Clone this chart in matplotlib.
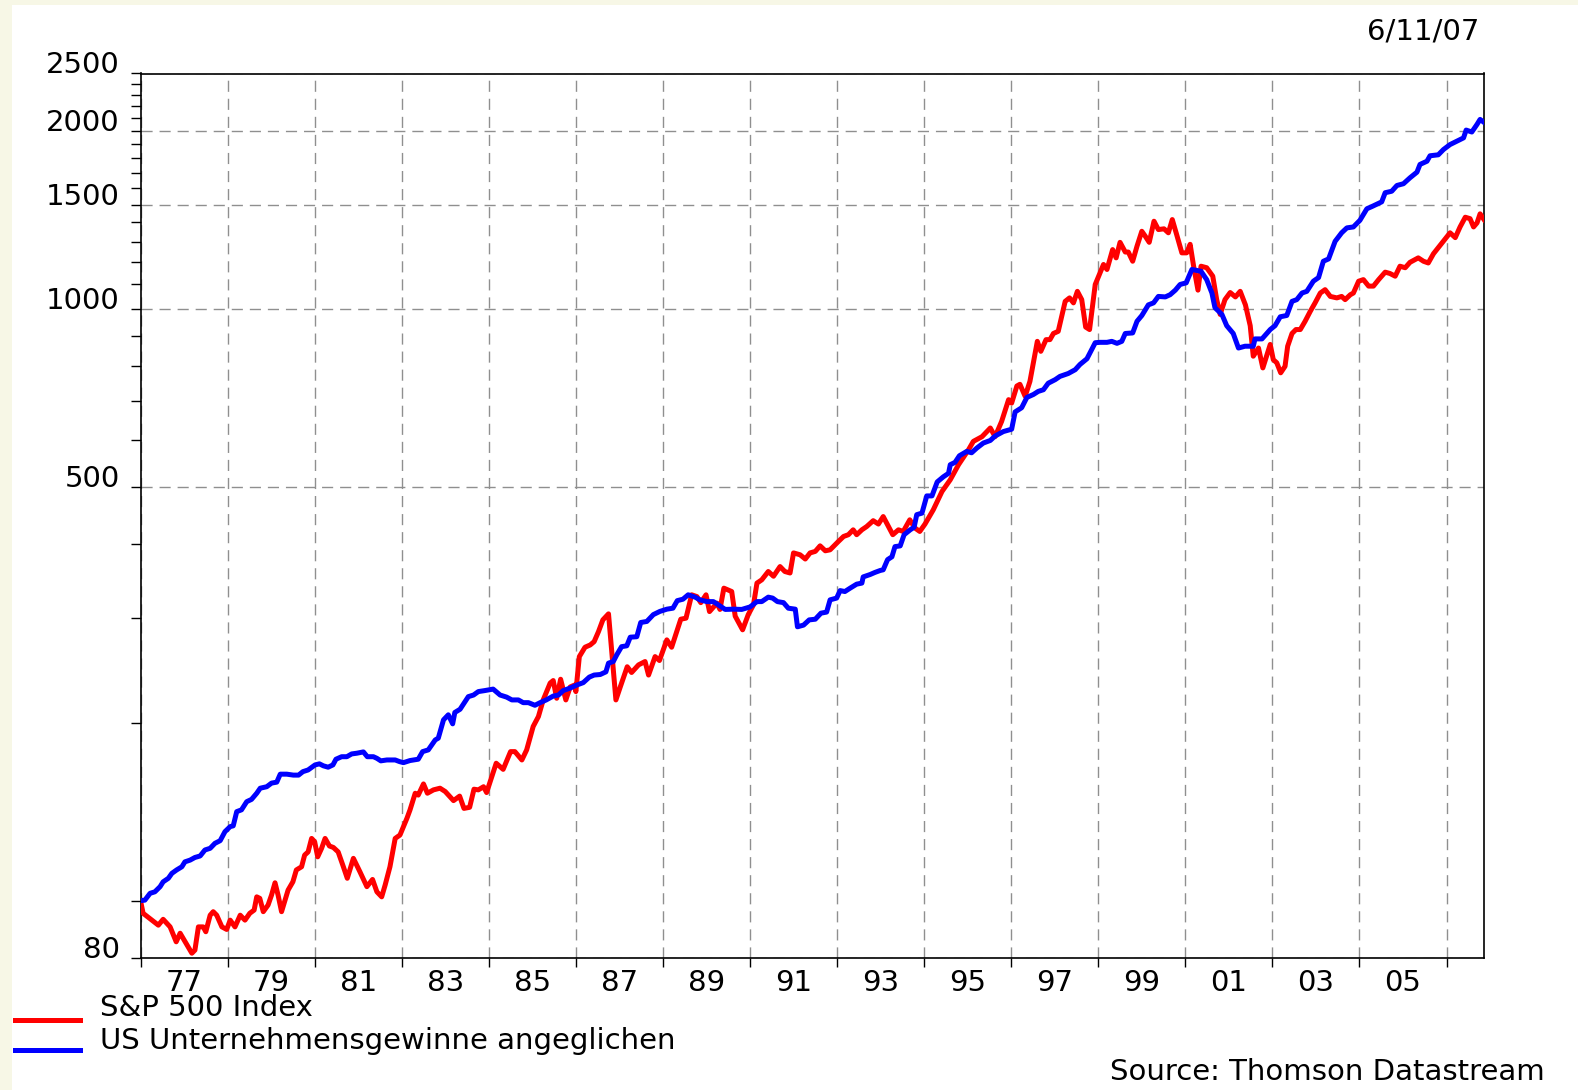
import matplotlib
matplotlib.use("Agg")
import matplotlib.pyplot as plt
from matplotlib.lines import Line2D
from matplotlib.patches import Rectangle
from matplotlib.ticker import NullFormatter

# 1. data (index, start = 100)
sp_years = [
    1977.00, 1977.06, 1977.26, 1977.41, 1977.52, 1977.68, 1977.82, 1977.91, 1978.18, 1978.25,
    1978.33, 1978.44, 1978.50, 1978.60, 1978.67, 1978.75, 1978.87, 1978.98, 1979.06, 1979.17,
    1979.29, 1979.40, 1979.51, 1979.61, 1979.67, 1979.74, 1979.82, 1979.93, 1980.01, 1980.09,
    1980.16, 1980.24, 1980.31, 1980.39, 1980.50, 1980.58, 1980.70, 1980.77, 1980.85, 1980.93,
    1981.00, 1981.07, 1981.16, 1981.24, 1981.34, 1981.43, 1981.54, 1981.66, 1981.75, 1981.89,
    1982.04, 1982.20, 1982.33, 1982.43, 1982.54, 1982.62, 1982.73, 1982.85, 1982.96, 1983.12,
    1983.19, 1983.31, 1983.38, 1983.50, 1983.59, 1983.73, 1983.88, 1984.00, 1984.19, 1984.33,
    1984.43, 1984.56, 1984.66, 1984.76, 1984.88, 1984.95, 1985.07, 1985.17, 1985.33, 1985.50,
    1985.60, 1985.76, 1985.87, 1986.02, 1986.14, 1986.25, 1986.41, 1986.48, 1986.56, 1986.65,
    1986.77, 1986.87, 1986.97, 1987.00, 1987.08, 1987.21, 1987.33, 1987.42, 1987.52, 1987.62,
    1987.75, 1987.92, 1988.02, 1988.18, 1988.28, 1988.44, 1988.59, 1988.67, 1988.82, 1988.92,
    1989.09, 1989.20, 1989.33, 1989.41, 1989.53, 1989.66, 1989.78, 1989.87, 1989.99, 1990.07,
    1990.24, 1990.31, 1990.40, 1990.58, 1990.66, 1990.83, 1990.96, 1991.08, 1991.16, 1991.27,
    1991.42, 1991.54, 1991.69, 1991.80, 1991.92, 1992.00, 1992.15, 1992.27, 1992.38, 1992.50,
    1992.61, 1992.73, 1992.84, 1993.03, 1993.15, 1993.26, 1993.37, 1993.45, 1993.57, 1993.68,
    1993.83, 1993.95, 1994.06, 1994.18, 1994.28, 1994.41, 1994.52, 1994.67, 1994.79, 1994.90,
    1995.02, 1995.21, 1995.41, 1995.60, 1995.79, 1996.02, 1996.13, 1996.33, 1996.52, 1996.63,
    1996.78, 1996.94, 1997.01, 1997.13, 1997.20, 1997.32, 1997.43, 1997.60, 1997.68, 1997.80,
    1997.89, 1997.97, 1998.08, 1998.24, 1998.34, 1998.43, 1998.52, 1998.62, 1998.71, 1998.80,
    1998.93, 1999.12, 1999.20, 1999.33, 1999.41, 1999.50, 1999.62, 1999.69, 1999.79, 1999.89,
    2000.00, 2000.08, 2000.17, 2000.28, 2000.38, 2000.51, 2000.61, 2000.70, 2000.80, 2000.92,
    2001.03, 2001.11, 2001.19, 2001.29, 2001.36, 2001.49, 2001.63, 2001.72, 2001.80, 2001.91,
    2002.03, 2002.15, 2002.26, 2002.38, 2002.49, 2002.56, 2002.68, 2002.78, 2002.95, 2003.02,
    2003.10, 2003.19, 2003.29, 2003.35, 2003.45, 2003.54, 2003.64, 2003.75, 2003.87, 2003.98,
    2004.10, 2004.21, 2004.33, 2004.48, 2004.59, 2004.67, 2004.79, 2004.86, 2004.98, 2005.09,
    2005.21, 2005.32, 2005.44, 2005.59, 2005.70, 2005.82, 2005.93, 2006.05, 2006.16, 2006.35,
    2006.47, 2006.58, 2006.70, 2006.89, 2007.08, 2007.20, 2007.31, 2007.43, 2007.54, 2007.62,
    2007.70, 2007.77, 2007.86]
sp_values = [
    100.0, 95.2, 92.7, 90.9, 93.0, 90.3, 85.2, 88.1, 81.5, 82.5,
    90.3, 90.3, 88.6, 94.5, 95.8, 94.5, 90.3, 89.4, 92.7, 90.3,
    94.5, 92.7, 95.2, 96.4, 101.5, 100.9, 95.8, 98.3, 102.2, 107.2,
    102.2, 95.8, 99.6, 104.2, 107.6, 112.7, 114.1, 119.4, 120.9, 127.4,
    125.8, 118.6, 122.6, 127.4, 123.7, 123.0, 120.9, 114.1, 109.1, 117.9,
    111.9, 105.6, 108.6, 103.5, 101.5, 106.3, 114.1, 127.4, 129.1, 137.8,
    142.3, 151.9, 150.8, 157.5, 151.9, 153.9, 154.9, 152.9, 147.6, 150.2,
    143.2, 143.8, 154.3, 153.9, 155.8, 152.3, 162.0, 170.7, 166.7, 178.6,
    178.6, 172.9, 179.8, 197.0, 204.7, 218.4, 233.2, 235.5, 219.8, 236.7,
    218.4, 229.7, 231.4, 225.6, 258.5, 268.1, 270.5, 274.0, 284.9, 298.2,
    305.3, 218.4, 229.7, 248.5, 243.0, 250.3, 253.6, 240.6, 258.5, 254.6,
    275.9, 268.1, 286.9, 299.0, 300.2, 328.8, 326.5, 318.9, 328.8, 308.0,
    318.3, 310.6, 337.4, 333.0, 302.6, 286.9, 304.4, 316.2, 344.1, 348.5,
    360.0, 353.4, 367.0, 360.0, 357.9, 387.0, 384.2, 377.9, 387.0, 389.3,
    397.8, 390.2, 391.7, 404.6, 412.6, 415.4, 423.4, 415.4, 423.4, 428.8,
    438.7, 433.0, 445.8, 428.8, 415.4, 423.4, 420.7, 440.2, 426.3, 420.7,
    433.0, 457.7, 491.5, 514.4, 545.5, 578.3, 597.3, 608.4, 629.2, 608.4,
    645.6, 702.6, 693.3, 740.9, 745.9, 711.9, 754.4, 881.6, 848.0, 887.5,
    887.5, 909.0, 916.7, 1030, 1044, 1024, 1071, 1037, 932, 923,
    1100, 1189, 1166, 1260, 1220, 1296, 1248, 1248, 1204, 1277,
    1353, 1327, 1296, 1407, 1362, 1366, 1345, 1416, 1336, 1244,
    1244, 1286, 1181, 1076, 1181, 1174, 1136, 1037, 979, 1037,
    1066, 1048, 1071, 1016, 937, 832, 859, 795, 871, 821,
    811, 780, 800, 865, 909, 923, 923, 953, 991, 1024,
    1064, 1078, 1050, 1044, 1050, 1037, 1057, 1064, 1114, 1121,
    1093, 1093, 1121, 1154, 1148, 1136, 1181, 1174, 1199, 1220,
    1204, 1196, 1240, 1291, 1345, 1320, 1376, 1429, 1421, 1376,
    1398, 1448, 1416]

gew_years = [
    1977.00, 1977.10, 1977.22, 1977.33, 1977.45, 1977.52, 1977.64, 1977.72, 1977.83, 1977.95,
    1978.02, 1978.14, 1978.25, 1978.37, 1978.48, 1978.60, 1978.71, 1978.83, 1978.94, 1979.06,
    1979.13, 1979.21, 1979.32, 1979.44, 1979.55, 1979.67, 1979.75, 1979.90, 1980.01, 1980.13,
    1980.21, 1980.36, 1980.51, 1980.63, 1980.73, 1980.85, 1981.01, 1981.11, 1981.20, 1981.31,
    1981.42, 1981.49, 1981.62, 1981.74, 1981.85, 1981.97, 1982.12, 1982.21, 1982.35, 1982.43,
    1982.52, 1982.66, 1982.85, 1982.95, 1983.04, 1983.19, 1983.38, 1983.48, 1983.61, 1983.77,
    1983.84, 1983.96, 1984.07, 1984.17, 1984.22, 1984.34, 1984.43, 1984.53, 1984.65, 1984.76,
    1984.91, 1985.10, 1985.26, 1985.41, 1985.53, 1985.68, 1985.79, 1985.91, 1986.06, 1986.18,
    1986.32, 1986.48, 1986.60, 1986.71, 1986.87, 1987.02, 1987.17, 1987.31, 1987.42, 1987.56,
    1987.69, 1987.75, 1987.86, 1987.94, 1988.05, 1988.17, 1988.25, 1988.40, 1988.49, 1988.63,
    1988.78, 1988.93, 1989.09, 1989.23, 1989.33, 1989.46, 1989.58, 1989.74, 1989.85, 1990.01,
    1990.16, 1990.27, 1990.43, 1990.62, 1990.81, 1991.00, 1991.16, 1991.27, 1991.42, 1991.52,
    1991.63, 1991.77, 1991.88, 1992.04, 1992.09, 1992.23, 1992.36, 1992.50, 1992.63, 1992.76,
    1992.84, 1992.99, 1993.07, 1993.18, 1993.30, 1993.45, 1993.57, 1993.60, 1993.76, 1993.87,
    1993.99, 1994.06, 1994.16, 1994.26, 1994.33, 1994.45, 1994.54, 1994.68, 1994.77, 1994.83,
    1994.95, 1995.06, 1995.18, 1995.30, 1995.44, 1995.56, 1995.60, 1995.71, 1995.81, 1995.98,
    1996.09, 1996.21, 1996.36, 1996.52, 1996.63, 1996.82, 1997.01, 1997.09, 1997.24, 1997.36,
    1997.51, 1997.62, 1997.74, 1997.85, 1998.01, 1998.12, 1998.31, 1998.47, 1998.58, 1998.74,
    1998.81, 1998.93, 1999.04, 1999.20, 1999.31, 1999.43, 1999.54, 1999.62, 1999.79, 1999.89,
    2000.00, 2000.15, 2000.27, 2000.38, 2000.54, 2000.65, 2000.77, 2000.88, 2001.02, 2001.07,
    2001.15, 2001.26, 2001.36, 2001.49, 2001.61, 2001.68, 2001.84, 2001.95, 2002.10, 2002.22,
    2002.37, 2002.56, 2002.60, 2002.76, 2002.95, 2003.06, 2003.18, 2003.33, 2003.45, 2003.56,
    2003.68, 2003.79, 2003.94, 2004.06, 2004.17, 2004.29, 2004.44, 2004.59, 2004.71, 2004.86,
    2005.01, 2005.17, 2005.28, 2005.51, 2005.59, 2005.74, 2005.86, 2006.01, 2006.16, 2006.32,
    2006.39, 2006.55, 2006.62, 2006.81, 2006.93, 2007.08, 2007.24, 2007.39, 2007.45, 2007.58,
    2007.70, 2007.77, 2007.86]
gew_values = [
    100.0, 100.2, 102.9, 103.5, 105.6, 107.6, 109.1, 111.2, 112.7, 114.1,
    116.3, 117.1, 118.3, 119.0, 121.8, 122.6, 125.0, 126.3, 130.8, 133.4,
    133.8, 141.4, 142.4, 147.0, 148.3, 151.9, 154.9, 155.8, 158.0, 158.6,
    163.6, 163.6, 163.0, 163.0, 165.2, 166.3, 169.6, 170.3, 169.0, 168.1,
    169.6, 173.4, 175.1, 175.1, 177.0, 177.5, 178.4, 175.1, 175.1, 174.0,
    172.3, 172.9, 172.9, 171.8, 171.1, 172.5, 173.4, 178.6, 179.8, 186.9,
    188.2, 202.1, 206.1, 199.0, 208.0, 210.6, 215.6, 221.2, 222.6, 225.6,
    226.5, 227.8, 222.6, 220.8, 218.4, 218.4, 216.1, 216.1, 213.9, 216.1,
    218.4, 221.7, 222.6, 226.5, 228.7, 231.4, 233.6, 238.7, 240.6, 241.1,
    243.6, 252.0, 253.6, 260.3, 268.7, 269.6, 278.8, 279.3, 295.2, 296.4,
    304.4, 308.2, 310.9, 312.1, 321.4, 323.2, 328.8, 325.8, 322.4, 320.2,
    320.2, 316.2, 310.6, 310.9, 310.6, 313.6, 320.2, 320.2, 325.8, 324.6,
    320.2, 318.9, 312.1, 310.9, 290.3, 292.2, 298.2, 299.0, 306.1, 307.4,
    322.4, 324.6, 334.2, 333.0, 337.4, 342.7, 344.1, 352.5, 355.8, 358.7,
    361.4, 362.4, 377.0, 381.2, 396.6, 397.7, 415.4, 423.4, 427.7, 449.1,
    451.8, 483.1, 483.1, 510.1, 520.3, 527.5, 545.5, 550.5, 564.8, 574.5,
    571.4, 582.0, 593.5, 599.5, 609.9, 620.6, 626.3, 669.9, 680.9, 708.7,
    716.9, 725.5, 730.3, 749.0, 759.5, 769.2, 777.9, 789.5, 805.8, 823.9,
    843.2, 876.9, 878.2, 878.2, 881.6, 874.8, 881.6, 909.0, 910.9, 953.2,
    974.7, 1016, 1024, 1050, 1048, 1057, 1076, 1100, 1107, 1130,
    1166, 1162, 1158, 1121, 1064, 1005, 979, 937, 909, 859,
    865, 865, 890, 890, 923, 937, 970, 975, 1030, 1037,
    1064, 1071, 1114, 1130, 1204, 1215, 1301, 1345, 1371, 1376,
    1412, 1477, 1489, 1517, 1572, 1581, 1617, 1628, 1666, 1703,
    1755, 1777, 1815, 1822, 1860, 1896, 1922, 1946, 2006, 1991,
    2051, 2091, 2067]

x_tick_years = list(range(1977, 2008, 2))
x_label_years = list(range(1978, 2007, 2))
x_labels = ['77', '79', '81', '83', '85', '87', '89', '91', '93', '95', '97', '99', '01', '03', '05']
y_major = [80, 500, 1000, 1500, 2000, 2500]
y_labels = ['80', '500', '1000', '1500', '2000', '2500']
y_minor = [v for v in range(100, 2500, 100) if v % 500 != 0]

series_names = ['S&P 500 Index', 'US Unternehmensgewinne angeglichen']
series_colors = ['#ff0000', '#0000ff']

FS = 21

# 2. figure
W, H = 1578, 1090
fig = plt.figure(figsize=(W / 100, H / 100), dpi=100, facecolor='#f7f7e6')
fig.patches.append(Rectangle((12 / W, 0), 1, 1 - 5 / H, transform=fig.transFigure,
                             facecolor='white', edgecolor='none', zorder=-10))

ax = fig.add_axes([140.5 / W, 1 - 958 / H, (1484 - 140.5) / W, (958 - 73.5) / H])
ax.set_yscale('log')
ax.plot(sp_years, sp_values, color=series_colors[0], lw=3.6, zorder=3)
ax.plot(gew_years, gew_values, color=series_colors[1], lw=3.6, zorder=4)
ax.set_xlim(1977.0, 2007.86)
ax.set_ylim(80, 2500)

# 3. axes / ticks
ax.set_yticks(y_major, labels=y_labels)
ax.set_yticks(y_minor, minor=True)
ax.yaxis.set_minor_formatter(NullFormatter())
ax.tick_params(axis='y', which='both', direction='out', length=7, width=1, pad=8,
               labelsize=FS, colors='black')

ax.set_xticks(x_tick_years)
ax.xaxis.set_major_formatter(NullFormatter())
ax.set_xticks(x_label_years, labels=x_labels, minor=True)
ax.tick_params(axis='x', which='major', direction='out', length=6.5, width=1)
ax.tick_params(axis='x', which='minor', length=0, pad=8, labelsize=FS)

for lab in ax.get_yticklabels():
    lab.set_verticalalignment('baseline')

ax.grid(True, which='major', axis='both', linestyle=(0, (8, 5)), color='#8f8f8f', lw=1.0)
for s in ax.spines.values():
    s.set_linewidth(1.2)
    s.set_color('black')

# 4. texts / legend
fig.text(1479 / W, 1 - 40 / H, '6/11/07', ha='right', va='baseline', fontsize=FS)
fig.text(1545 / W, 1 - 1080 / H, 'Source: Thomson Datastream', ha='right', va='baseline', fontsize=FS)

leg_line_y = [1020, 1050]
leg_text_y = [1016, 1049]
for name, col, ly, ty in zip(series_names, series_colors, leg_line_y, leg_text_y):
    fig.add_artist(Line2D([15 / W, 80 / W], [1 - ly / H, 1 - ly / H], color=col, lw=3.6,
                          transform=fig.transFigure))
    fig.text(100 / W, 1 - ty / H, name, ha='left', va='baseline', fontsize=FS)

fig.savefig('out.png', dpi=100, facecolor=fig.get_facecolor())
